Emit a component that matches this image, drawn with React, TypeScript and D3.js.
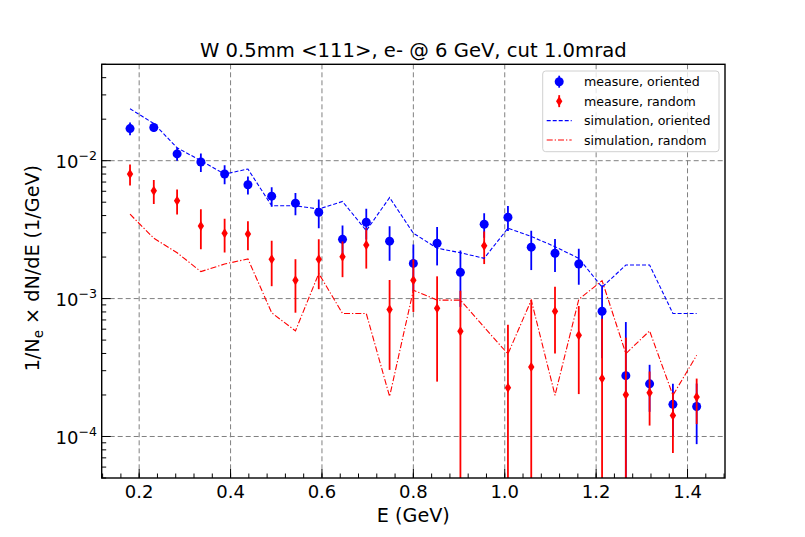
import * as d3 from 'd3'
import { useEffect, useRef } from 'react'

// energy bins (GeV)
const energy = [0.180, 0.232, 0.283, 0.335, 0.387, 0.438, 0.490, 0.542, 0.593, 0.645, 0.697, 0.748, 0.800,
  0.852, 0.903, 0.955, 1.007, 1.058, 1.110, 1.162, 1.213, 1.265, 1.317, 1.368, 1.420]

const measOriented = [0.0171, 0.0174, 0.0112, 0.00978, 0.0080, 0.00669, 0.00553, 0.00492, 0.00423, 0.00269,
  0.00358, 0.00261, 0.0018, 0.00252, 0.00155, 0.00346, 0.00389, 0.00236, 0.00213, 0.00178, 0.00081,
  0.000276, 0.000241, 0.000171, 0.000165]
const measOrientedErr = [0.0018, 0.0012, 0.0012, 0.0015, 0.00125, 0.001, 0.0009, 0.0009, 0.001, 0.0007,
  0.0009, 0.00073, 0.00067, 0.00078, 0.00068, 0.0007, 0.0008, 0.00075, 0.00057, 0.00052, 0.00044,
  0.0004, 0.00009, 0.00007, 0.000077]

const measRandom = [0.0080, 0.00605, 0.00512, 0.00336, 0.00298, 0.00294, 0.00193, 0.00136, 0.00193, 0.00201,
  0.00245, 0.000834, 0.00136, 0.00085, 0.00058, 0.00242, 0.000226, 0.000319, 0.00081, 0.000543, 0.000263,
  0.000201, 0.000208, 0.000142, 0.000193]
const measRandomErr = [0.0014, 0.0012, 0.00105, 0.00108, 0.00082, 0.0007, 0.0007, 0.00057, 0.00076, 0.00058,
  0.0008, 0.00053, 0.00056, 0.0006, 0.00056, 0.00064, 0.00042, 0.00066, 0.00041, 0.00034, 0.00045,
  0.00032, 0.000088, 0.000066, 0.00007]

const simOriented = [0.0238, 0.0186, 0.0124, 0.0100, 0.0080, 0.0087, 0.00471, 0.00471, 0.00446, 0.00506,
  0.00311, 0.0054, 0.00298, 0.00232, 0.00215, 0.00196, 0.00324, 0.00282, 0.00238, 0.00196, 0.00121,
  0.00175, 0.00175, 0.00078, 0.00078]
const simRandom = [0.00409, 0.00274, 0.00215, 0.00157, 0.00178, 0.00194, 0.000789, 0.000583, 0.00152, 0.00078,
  0.00078, 0.000195, 0.00115, 0.000975, 0.000975, 0.00062, 0.000397, 0.000975, 0.000199, 0.000986, 0.00135,
  0.000399, 0.000583, 0.000199, 0.000388]

const xTicks = [0.2, 0.4, 0.6, 0.8, 1.0, 1.2, 1.4]
const xTickLabels = ['0.2', '0.4', '0.6', '0.8', '1.0', '1.2', '1.4']
const yTicks = [1e-4, 1e-3, 1e-2]
const yTickExp = ['−4', '−3', '−2']

const legendItems = ['measure, oriented', 'measure, random', 'simulation, oriented', 'simulation, random']

const W = 805
const H = 537
const margin = { top: 64.3, right: 80, bottom: 59, left: 101.7 }
const FONT = 'DejaVu Sans, sans-serif'

export default function App() {
  const svgRef = useRef<SVGSVGElement | null>(null)

  useEffect(() => {
    if (!svgRef.current)
      return
    const svg = d3.select(svgRef.current)
    svg.selectAll('*').remove()

    const [e0, e1] = d3.extent(energy) as [number, number]
    const pad = (e1 - e0) * 0.05
    const x = d3.scaleLinear().domain([e0 - pad, e1 + pad]).range([margin.left, W - margin.right])
    const y = d3.scaleLog().domain([5e-5, 5e-2]).range([H - margin.bottom, margin.top])
    const [x0, x1] = x.range()
    const [yb, yt] = y.range()

    svg.append('defs').append('clipPath').attr('id', 'plotclip')
      .append('rect').attr('x', x0).attr('y', yt).attr('width', x1 - x0).attr('height', yb - yt)

    // grid
    const grid = svg.append('g').attr('stroke', '#808080').attr('stroke-width', 1).attr('stroke-dasharray', '5,3')
    grid.selectAll('line.gx').data(xTicks).enter().append('line')
      .attr('x1', d => x(d)).attr('x2', d => x(d)).attr('y1', yt).attr('y2', yb)
    grid.selectAll('line.gy').data(yTicks).enter().append('line')
      .attr('y1', d => y(d)).attr('y2', d => y(d)).attr('x1', x0).attr('x2', x1)

    const plot = svg.append('g').attr('clip-path', 'url(#plotclip)')

    const diamond = (cx: number, cy: number) =>
      `M${cx},${cy - 5}L${cx + 3.2},${cy}L${cx},${cy + 5}L${cx - 3.2},${cy}Z`

    const drawErr = (vals: number[], errs: number[], color: string, marker: 'o' | 'd') => {
      const g = plot.append('g')
      g.selectAll('line').data(vals).enter().append('line')
        .attr('x1', (_, i) => x(energy[i])).attr('x2', (_, i) => x(energy[i]))
        .attr('y1', (d, i) => y(d + errs[i]))
        .attr('y2', (d, i) => (d - errs[i] > 1e-7 ? y(d - errs[i]) : yb + 20))
        .attr('stroke', color).attr('stroke-width', 1.8)
      if (marker === 'o') {
        g.selectAll('circle').data(vals).enter().append('circle')
          .attr('cx', (_, i) => x(energy[i])).attr('cy', d => y(d)).attr('r', 4.5).attr('fill', color)
      }
      else {
        g.selectAll('path').data(vals).enter().append('path')
          .attr('d', (d, i) => diamond(x(energy[i]), y(d)))
          .attr('fill', color)
      }
    }
    drawErr(measOriented, measOrientedErr, '#0000ff', 'o')
    drawErr(measRandom, measRandomErr, '#ff0000', 'd')

    const line = d3.line<number>().x((_, i) => x(energy[i])).y(d => y(d))
    plot.append('path').attr('d', line(simOriented)).attr('fill', 'none')
      .attr('stroke', '#0000ff').attr('stroke-width', 1.1).attr('stroke-dasharray', '4,2')
    plot.append('path').attr('d', line(simRandom)).attr('fill', 'none')
      .attr('stroke', '#ff0000').attr('stroke-width', 1.1).attr('stroke-dasharray', '6,2,1.3,2')

    // ticks (inward, left and bottom)
    const ticks = svg.append('g').attr('stroke', '#000').attr('stroke-width', 1)
    const xMinor = d3.range(0.12, 1.49, 0.04).filter(v => v >= x.domain()[0] && v <= x.domain()[1])
    ticks.selectAll('line.xm').data(xMinor).enter().append('line')
      .attr('x1', d => x(d)).attr('x2', d => x(d)).attr('y1', yb).attr('y2', yb - 4.5)
    ticks.selectAll('line.xM').data(xTicks).enter().append('line')
      .attr('x1', d => x(d)).attr('x2', d => x(d)).attr('y1', yb).attr('y2', yb - 9)
    const yMinor = y.ticks().filter(v => !yTicks.includes(v))
    ticks.selectAll('line.ym').data(yMinor).enter().append('line')
      .attr('y1', d => y(d)).attr('y2', d => y(d)).attr('x1', x0).attr('x2', x0 + 4.5)
    ticks.selectAll('line.yM').data(yTicks).enter().append('line')
      .attr('y1', d => y(d)).attr('y2', d => y(d)).attr('x1', x0).attr('x2', x0 + 9)

    // frame
    svg.append('rect').attr('x', x0).attr('y', yt).attr('width', x1 - x0).attr('height', yb - yt)
      .attr('fill', 'none').attr('stroke', '#000').attr('stroke-width', 1.4)

    // tick labels
    svg.append('g').selectAll('text').data(xTicks).enter().append('text')
      .attr('x', d => x(d)).attr('y', 497.7).attr('text-anchor', 'middle')
      .attr('font-family', FONT).attr('font-size', 18).text((_, i) => xTickLabels[i])
    const yl = svg.append('g').selectAll('text').data(yTicks).enter().append('text')
      .attr('x', 97).attr('y', d => y(d) + 7.5).attr('text-anchor', 'end')
      .attr('font-family', FONT).attr('font-size', 18)
    yl.append('tspan').text('10')
    yl.append('tspan').attr('font-size', 12.6).attr('dy', -8).text((_, i) => yTickExp[i])

    // labels
    svg.append('text').attr('x', (x0 + x1) / 2).attr('y', 56.7).attr('text-anchor', 'middle')
      .attr('font-family', FONT).attr('font-size', 19.6).text('W 0.5mm <111>, e- @ 6 GeV, cut 1.0mrad')
    svg.append('text').attr('x', (x0 + x1) / 2).attr('y', 521.7).attr('text-anchor', 'middle')
      .attr('font-family', FONT).attr('font-size', 19.2).text('E (GeV)')
    const ylab = svg.append('text').attr('transform', `translate(39,${(yt + yb) / 2 - 3}) rotate(-90)`)
      .attr('text-anchor', 'middle').attr('font-family', FONT).attr('font-size', 19.2)
    ylab.append('tspan').text('1/N')
    ylab.append('tspan').attr('font-size', 13.4).attr('dy', 3.5).text('e')
    ylab.append('tspan').attr('dy', -3.5).text(' × dN/dE (1/GeV)')

    // legend
    const lg = svg.append('g')
    lg.append('rect').attr('x', 542.7).attr('y', 71).attr('width', 176.3).attr('height', 80.7).attr('rx', 3)
      .attr('fill', '#fff').attr('fill-opacity', 0.8).attr('stroke', '#d0d0d0').attr('stroke-width', 1)
    const rowY = (i: number) => 81.7 + i * 19.45
    lg.selectAll('text').data(legendItems).enter().append('text')
      .attr('x', 584).attr('y', (_, i) => rowY(i) + 4.5)
      .attr('font-family', FONT).attr('font-size', 12.6).text(d => d)
    const mx = 559.2
    lg.append('line').attr('x1', mx).attr('x2', mx).attr('y1', rowY(0) - 6).attr('y2', rowY(0) + 6)
      .attr('stroke', '#0000ff').attr('stroke-width', 1.8)
    lg.append('circle').attr('cx', mx).attr('cy', rowY(0)).attr('r', 4.5).attr('fill', '#0000ff')
    lg.append('line').attr('x1', mx).attr('x2', mx).attr('y1', rowY(1) - 6).attr('y2', rowY(1) + 6)
      .attr('stroke', '#ff0000').attr('stroke-width', 1.8)
    lg.append('path').attr('d', diamond(mx, rowY(1))).attr('fill', '#ff0000')
    lg.append('line').attr('x1', 546.7).attr('x2', 571.7).attr('y1', rowY(2)).attr('y2', rowY(2))
      .attr('stroke', '#0000ff').attr('stroke-width', 1.1).attr('stroke-dasharray', '4,2')
    lg.append('line').attr('x1', 546.7).attr('x2', 571.7).attr('y1', rowY(3)).attr('y2', rowY(3))
      .attr('stroke', '#ff0000').attr('stroke-width', 1.1).attr('stroke-dasharray', '6,2,1.3,2')
  }, [])

  return (
    <svg ref={svgRef} width={W} height={H}
      style={{ position: 'absolute', left: 0, top: 0, background: '#fff' }} />
  )
}
